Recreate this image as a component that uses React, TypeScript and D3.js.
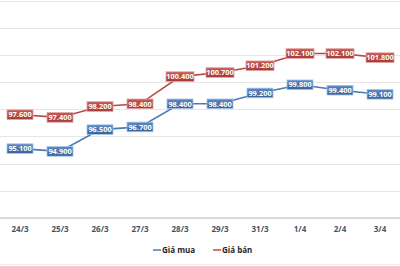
import { useRef, useEffect } from 'react'
import * as d3 from 'd3'

const dates = ['24/3', '25/3', '26/3', '27/3', '28/3', '29/3', '31/3', '1/4', '2/4', '3/4']
const buyPrices = [95.1, 94.9, 96.5, 96.7, 98.4, 98.4, 99.2, 99.8, 99.4, 99.1]
const sellPrices = [97.6, 97.4, 98.2, 98.4, 100.4, 100.7, 101.2, 102.1, 102.1, 101.8]
const yTicks = [90, 92, 94, 96, 98, 100, 102, 104, 106]

const seriesNames = ['Giá mua', 'Giá bán']

const formatPrice = (v: number) => d3.format(',.3f')(v).replace(',', '.')

const App = () => {
  const svgRef = useRef<SVGSVGElement>(null)

  useEffect(() => {
    if (!svgRef.current) return
    const width = 400
    const height = 266
    const svg = d3.select(svgRef.current)
    svg.selectAll('*').remove()
    svg.attr('width', width).attr('height', height)

    const margin = { top: 0.5, bottom: 48, left: 0, right: 0 }
    const innerH = height - margin.top - margin.bottom

    const x = d3.scaleBand<string>().domain(dates).range([0, width])
    const y = d3.scaleLinear().domain([90, 106]).range([margin.top + innerH, margin.top])
    const cx = (d: string) => (x(d) || 0) + x.bandwidth() / 2

    svg.append('rect').attr('width', width).attr('height', height).attr('fill', '#fff')

    // gradients for labels
    const defs = svg.append('defs')
    const grads = [
      { id: 'gBlue', top: '#5b8bc6', bottom: '#34639c' },
      { id: 'gRed', top: '#c75a57', bottom: '#a33b38' },
    ]
    grads.forEach((g) => {
      const lg = defs.append('linearGradient').attr('id', g.id).attr('x1', 0).attr('y1', 0).attr('x2', 0).attr('y2', 1)
      lg.append('stop').attr('offset', '0%').attr('stop-color', g.top)
      lg.append('stop').attr('offset', '100%').attr('stop-color', g.bottom)
    })

    // grid lines
    svg.append('g')
      .selectAll('line')
      .data(yTicks.slice(1))
      .join('line')
      .attr('x1', 0)
      .attr('x2', width)
      .attr('y1', (d) => Math.round(y(d)) + 0.5)
      .attr('y2', (d) => Math.round(y(d)) + 0.5)
      .attr('stroke', '#e6e6e6')
      .attr('stroke-width', 1)

    // x axis line
    svg.append('line')
      .attr('x1', 0)
      .attr('x2', width)
      .attr('y1', y(90))
      .attr('y2', y(90))
      .attr('stroke', '#d9d9d9')
      .attr('stroke-width', 2)

    // bottom border
    svg.append('line')
      .attr('x1', 0)
      .attr('x2', width)
      .attr('y1', 264.5)
      .attr('y2', 264.5)
      .attr('stroke', '#ececec')

    svg.append('g')
      .selectAll('text')
      .data(dates)
      .join('text')
      .attr('x', (d) => cx(d))
      .attr('y', y(90) + 14)
      .attr('text-anchor', 'middle')
      .attr('font-family', 'Open Sans, sans-serif')
      .attr('font-weight', 'bold')
      .attr('font-size', 8)
      .attr('fill', '#44546a')
      .text((d) => d)

    const series = [
      { name: seriesNames[0], values: buyPrices, color: '#4a7ab4', grad: 'url(#gBlue)', border: '#a9c3e4' },
      { name: seriesNames[1], values: sellPrices, color: '#b44a48', grad: 'url(#gRed)', border: '#e0a2a0' },
    ]

    const line = d3.line<number>()
      .x((_, i) => cx(dates[i]))
      .y((d) => y(d))

    series.forEach((s) => {
      svg.append('path')
        .datum(s.values)
        .attr('fill', 'none')
        .attr('stroke', s.color)
        .attr('stroke-width', 1.6)
        .attr('d', line)
    })

    series.forEach((s) => {
      const lbl = svg.append('g')
        .selectAll('g')
        .data(s.values)
        .join('g')
        .attr('transform', (d, i) => `translate(${cx(dates[i])},${y(d)})`)
      lbl.append('rect')
        .attr('x', (d) => (d >= 100 ? -14 : -13))
        .attr('y', -4.8)
        .attr('width', (d) => (d >= 100 ? 28 : 26))
        .attr('height', 9.6)
        .attr('fill', s.grad)
        .attr('stroke', s.border)
        .attr('stroke-width', 0.8)
      lbl.append('text')
        .attr('text-anchor', 'middle')
        .attr('y', 2.7)
        .attr('font-family', 'Open Sans, sans-serif')
        .attr('font-weight', 'bold')
        .attr('font-size', 7.4)
        .attr('fill', '#fff')
        .text((d) => formatPrice(d))
    })

    // legend
    const legend = svg.append('g').attr('transform', 'translate(0,250)')
    const legendX = [153, 213]
    series.forEach((s, i) => {
      legend.append('line')
        .attr('x1', legendX[i])
        .attr('x2', legendX[i] + 8)
        .attr('y1', 0)
        .attr('y2', 0)
        .attr('stroke', s.color)
        .attr('stroke-width', 1.5)
      legend.append('text')
        .attr('x', legendX[i] + 9)
        .attr('y', 2.9)
        .attr('font-family', 'Open Sans, sans-serif')
        .attr('font-weight', 'bold')
        .attr('font-size', 8)
        .attr('fill', '#262626')
        .text(s.name)
    })
  }, [])

  return (
    <div style={{ position: 'absolute', left: 0, top: 0 }}>
      <svg ref={svgRef} style={{ display: 'block' }} />
    </div>
  )
}

export default App
